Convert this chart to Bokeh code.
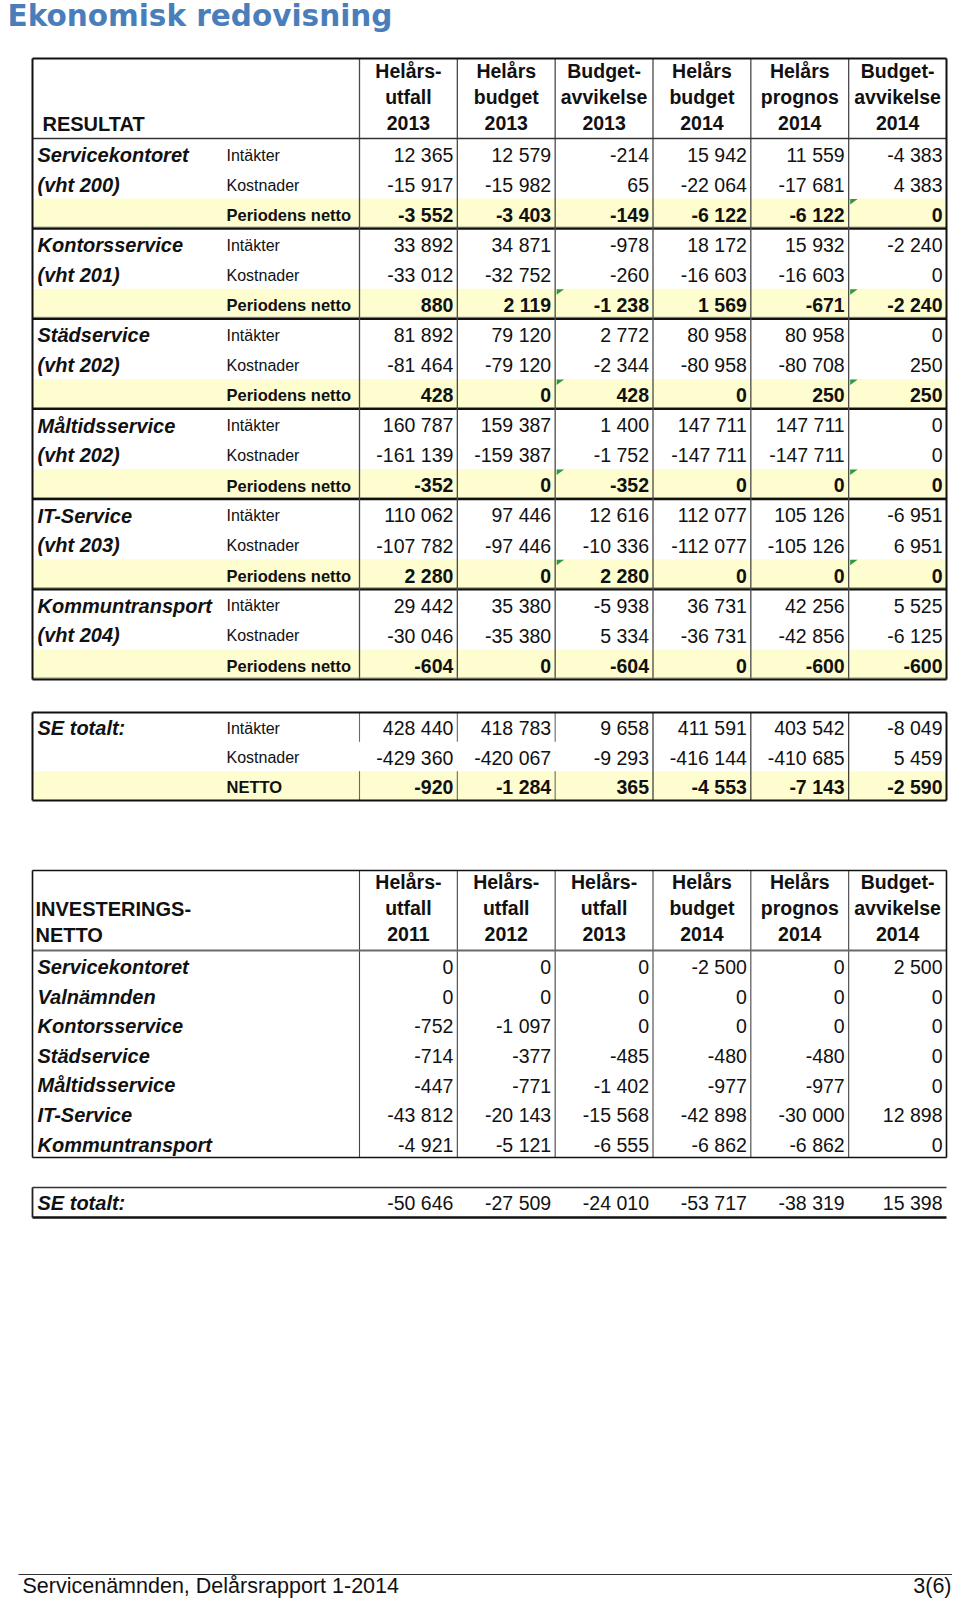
from bokeh.plotting import figure
from bokeh.models import ColumnDataSource, Range1d
from bokeh.core.properties import value
from bokeh.embed import file_html
from bokeh.resources import INLINE

# ---------------- data ----------------
TITLE = "Ekonomisk redovisning"
FOOTER_LEFT = "Servicenämnden, Delårsrapport 1-2014"
FOOTER_RIGHT = "3(6)"

RES_HEADER_LABEL = "RESULTAT"
RES_COLUMNS = [
    ["Helårs-", "utfall", "2013"],
    ["Helårs", "budget", "2013"],
    ["Budget-", "avvikelse", "2013"],
    ["Helårs", "budget", "2014"],
    ["Helårs", "prognos", "2014"],
    ["Budget-", "avvikelse", "2014"],
]
RES_UNITS = ["Servicekontoret", "Kontorsservice", "Städservice",
             "Måltidsservice", "IT-Service", "Kommuntransport"]
RES_CODES = ["(vht 200)", "(vht 201)", "(vht 202)", "(vht 202)", "(vht 203)", "(vht 204)"]
RES_ROW_TYPES = ["Intäkter", "Kostnader", "Periodens netto"]

servicekontoret = [[12365, 12579, -214, 15942, 11559, -4383],
                   [-15917, -15982, 65, -22064, -17681, 4383],
                   [-3552, -3403, -149, -6122, -6122, 0]]
kontorsservice = [[33892, 34871, -978, 18172, 15932, -2240],
                  [-33012, -32752, -260, -16603, -16603, 0],
                  [880, 2119, -1238, 1569, -671, -2240]]
stadservice = [[81892, 79120, 2772, 80958, 80958, 0],
               [-81464, -79120, -2344, -80958, -80708, 250],
               [428, 0, 428, 0, 250, 250]]
maltidsservice = [[160787, 159387, 1400, 147711, 147711, 0],
                  [-161139, -159387, -1752, -147711, -147711, 0],
                  [-352, 0, -352, 0, 0, 0]]
it_service = [[110062, 97446, 12616, 112077, 105126, -6951],
              [-107782, -97446, -10336, -112077, -105126, 6951],
              [2280, 0, 2280, 0, 0, 0]]
kommuntransport = [[29442, 35380, -5938, 36731, 42256, 5525],
                   [-30046, -35380, 5334, -36731, -42856, -6125],
                   [-604, 0, -604, 0, -600, -600]]
RES_VALUES = [servicekontoret, kontorsservice, stadservice,
              maltidsservice, it_service, kommuntransport]

# Excel note markers: (unit, row, column)
RES_MARKERS = [(0, 2, 5), (1, 2, 2), (1, 2, 5), (2, 2, 2), (2, 2, 5),
               (3, 2, 2), (3, 2, 5), (4, 2, 2), (4, 2, 5)]

SE_LABEL = "SE totalt:"
SE_ROW_TYPES = ["Intäkter", "Kostnader", "NETTO"]
se_intakter = [428440, 418783, 9658, 411591, 403542, -8049]
se_kostnader = [-429360, -420067, -9293, -416144, -410685, 5459]
se_netto = [-920, -1284, 365, -4553, -7143, -2590]

INV_HEADER_LABEL = ["INVESTERINGS-", "NETTO"]
INV_COLUMNS = [
    ["Helårs-", "utfall", "2011"],
    ["Helårs-", "utfall", "2012"],
    ["Helårs-", "utfall", "2013"],
    ["Helårs", "budget", "2014"],
    ["Helårs", "prognos", "2014"],
    ["Budget-", "avvikelse", "2014"],
]
INV_UNITS = ["Servicekontoret", "Valnämnden", "Kontorsservice", "Städservice",
             "Måltidsservice", "IT-Service", "Kommuntransport"]
inv_servicekontoret = [0, 0, 0, -2500, 0, 2500]
inv_valnamnden = [0, 0, 0, 0, 0, 0]
inv_kontorsservice = [-752, -1097, 0, 0, 0, 0]
inv_stadservice = [-714, -377, -485, -480, -480, 0]
inv_maltidsservice = [-447, -771, -1402, -977, -977, 0]
inv_it_service = [-43812, -20143, -15568, -42898, -30000, 12898]
inv_kommuntransport = [-4921, -5121, -6555, -6862, -6862, 0]
INV_VALUES = [inv_servicekontoret, inv_valnamnden, inv_kontorsservice, inv_stadservice,
              inv_maltidsservice, inv_it_service, inv_kommuntransport]
inv_total = [-50646, -27509, -24010, -53717, -38319, 15398]

# ---------------- layout ----------------
W, H = 952, 1600
FONT = "Liberation Sans"
X0, XL, XR = 32, 359, 946
COL_W = (XR - XL) / 6.0
HEAD_BASE = [20, 46, 72]
LABEL_X, TYPE_X = 37, 226
BASE_SHIFT = 0.37   # renderer places text lower than the alphabetic baseline

RES_TOP, RES_HB, RES_BOT = 58, 138, 679
RES_RH = (RES_BOT - RES_HB) / 18.0
SE_TOP, SE_BOT = 712, 800
SE_RH = (SE_BOT - SE_TOP) / 3.0
INV_TOP, INV_HB, INV_BOT = 870, 950, 1157
INV_RH = (INV_BOT - INV_HB) / 7.0
INVT_TOP, INVT_BOT = 1187, 1217
FOOT_LINE, FOOT_BASE = 1574, 1593.5


def col_left(i):
    return XL + i * COL_W


def fmt(v):
    s = f"{abs(v):,}".replace(",", " ")
    return ("-" if v < 0 else "") + s


STYLES = {
    "title": dict(font="DejaVu Sans", size=29.5, style="bold", align="left", color="#4A7EBB"),
    "head": dict(font=FONT, size=19.5, style="bold", align="center", color="#111111"),
    "headl": dict(font=FONT, size=20, style="bold", align="left", color="#111111"),
    "unit": dict(font=FONT, size=20, style="bold italic", align="left", color="#111111"),
    "type": dict(font=FONT, size=16, style="normal", align="left", color="#111111"),
    "typeb": dict(font=FONT, size=16.5, style="bold", align="left", color="#111111"),
    "num": dict(font=FONT, size=19.5, style="normal", align="right", color="#111111"),
    "numb": dict(font=FONT, size=19.5, style="bold", align="right", color="#111111"),
    "foot": dict(font=FONT, size=21.5, style="normal", align="left", color="#111111"),
    "footr": dict(font=FONT, size=21.5, style="normal", align="right", color="#111111"),
}
texts = {k: dict(x=[], y=[], text=[]) for k in STYLES}


def add(style, x, y, t):
    texts[style]["x"].append(x)
    texts[style]["y"].append(y - BASE_SHIFT * STYLES[style]["size"])
    texts[style]["text"].append(t)


lines = dict(x0=[], y0=[], x1=[], y1=[], color=[], width=[])


def seg(x0, y0, x1, y1, color, width):
    lines["x0"].append(x0); lines["y0"].append(y0)
    lines["x1"].append(x1); lines["y1"].append(y1)
    lines["color"].append(color); lines["width"].append(width)


bands = dict(left=[], right=[], top=[], bottom=[])


def band(y0, y1):
    bands["left"].append(X0); bands["right"].append(XR)
    bands["top"].append(y0); bands["bottom"].append(y1)


tri = dict(xs=[], ys=[])

# title & footer
add("title", 7, 26, TITLE)
add("foot", 22, FOOT_BASE, FOOTER_LEFT)
add("footr", 951, FOOT_BASE, FOOTER_RIGHT)
seg(18, FOOT_LINE, 952, FOOT_LINE, "#333333", 1.2)

# ---- result table ----
for i, hl in enumerate(RES_COLUMNS):
    cx = col_left(i) + COL_W / 2
    for j, t in enumerate(hl):
        add("head", cx, RES_TOP + HEAD_BASE[j], t)
add("headl", 42, RES_TOP + 73, RES_HEADER_LABEL)

for g, unit in enumerate(RES_UNITS):
    for r in range(3):
        top = RES_HB + (g * 3 + r) * RES_RH
        if r == 2:
            band(top, top + RES_RH)
        if r == 0:
            add("unit", LABEL_X, top + 24, unit)
        if r == 1:
            add("unit", LABEL_X, top + 23.5, RES_CODES[g])
        add("typeb" if r == 2 else "type", TYPE_X, top + 22.5, RES_ROW_TYPES[r])
        for c, v in enumerate(RES_VALUES[g][r]):
            add("numb" if r == 2 else "num", col_left(c + 1) - 4, top + 23.5, fmt(v))
    if g > 0:
        yb = RES_HB + g * 3 * RES_RH
        seg(X0, yb - 1.5, XR, yb - 1.5, "#888888", 1.0)
        seg(X0, yb, XR, yb, "#111111", 2.2)

for (g, r, c) in RES_MARKERS:
    x = col_left(c) + 1.5
    y = RES_HB + (g * 3 + r) * RES_RH + 0.5
    tri["xs"].append([x, x + 7.5, x])
    tri["ys"].append([y, y, y + 5.5])

for i in range(6):
    seg(col_left(i), RES_TOP, col_left(i), RES_BOT, "#4a4a4a", 1.3)
seg(X0, RES_HB, XR, RES_HB, "#333333", 1.6)
seg(X0, RES_BOT - 1.5, XR, RES_BOT - 1.5, "#888888", 1.0)

# ---- SE total (result) ----
se_rows = [se_intakter, se_kostnader, se_netto]
for r in range(3):
    top = SE_TOP + r * SE_RH
    if r == 2:
        band(top, SE_BOT)
    if r == 0:
        add("unit", LABEL_X, top + 23, SE_LABEL)
    add("typeb" if r == 2 else "type", TYPE_X, top + 22, SE_ROW_TYPES[r])
    for c, v in enumerate(se_rows[r]):
        add("numb" if r == 2 else "num", col_left(c + 1) - 4, top + 23, fmt(v))
for xi in [XL, col_left(1), col_left(2)]:
    seg(xi, SE_TOP, xi, SE_TOP + SE_RH, "#6a6a6a", 1.1)
    seg(xi, SE_TOP + 2 * SE_RH, xi, SE_BOT, "#6a6a6a", 1.1)
for i in [3, 4, 5]:
    seg(col_left(i), SE_TOP, col_left(i), SE_BOT, "#333333", 1.2)

# ---- investments ----
for i, hl in enumerate(INV_COLUMNS):
    cx = col_left(i) + COL_W / 2
    for j, t in enumerate(hl):
        add("head", cx, INV_TOP + HEAD_BASE[j] - 1, t)
for j, t in enumerate(INV_HEADER_LABEL):
    add("headl", 35, INV_TOP + HEAD_BASE[j + 1], t)
for k, unit in enumerate(INV_UNITS):
    top = INV_HB + k * INV_RH
    add("unit", LABEL_X, top + 24, unit)
    for c, v in enumerate(INV_VALUES[k]):
        add("num", col_left(c + 1) - 4, top + 24, fmt(v))
for i in range(6):
    seg(col_left(i), INV_TOP, col_left(i), INV_BOT, "#444444", 1.1)
seg(X0, INV_HB, XR, INV_HB, "#6a6a6a", 2.0)

add("unit", LABEL_X, INVT_TOP + 23, SE_LABEL)
for c, v in enumerate(inv_total):
    add("num", col_left(c + 1) - 4, INVT_TOP + 23, fmt(v))
seg(X0, INVT_TOP, XR, INVT_TOP, "#333333", 1.5)
seg(X0, INVT_BOT, XR, INVT_BOT, "#111111", 2.4)
seg(X0, INVT_TOP, X0, INVT_BOT, "#222222", 1.8)

# outer borders
for (t, b, w) in [(RES_TOP, RES_BOT, 2.0), (SE_TOP, SE_BOT, 2.0), (INV_TOP, INV_BOT, 1.6)]:
    seg(X0, t, XR, t, "#111111", w)
    seg(X0, b, XR, b, "#111111", w)
    seg(X0, t, X0, b, "#111111", w)
    seg(XR, t, XR, b, "#111111", w)

# ---------------- figure ----------------
p = figure(width=W, height=H, x_range=Range1d(0, W), y_range=Range1d(H, 0),
           output_backend="svg", toolbar_location=None, min_border=0,
           x_axis_location=None, y_axis_location=None)
p.grid.visible = False
p.outline_line_color = None
p.background_fill_color = "white"
p.border_fill_color = "white"

p.quad(left="left", right="right", top="top", bottom="bottom", source=ColumnDataSource(bands),
       fill_color="#FEFDD0", line_color=None)
p.segment(x0="x0", y0="y0", x1="x1", y1="y1", line_color="color", line_width="width",
          source=ColumnDataSource(lines))
p.patches(xs="xs", ys="ys", source=ColumnDataSource(tri), fill_color="#2E9A3E", line_color=None)

for k, st in STYLES.items():
    if not texts[k]["x"]:
        continue
    p.text(x="x", y="y", text="text", source=ColumnDataSource(texts[k]),
           text_font=value(st["font"]), text_font_size=value(f"{st['size']}px"),
           text_font_style=st["style"], text_align=st["align"],
           text_baseline="alphabetic", text_color=st["color"])

open("out.html", "w").write(file_html(p, INLINE))
